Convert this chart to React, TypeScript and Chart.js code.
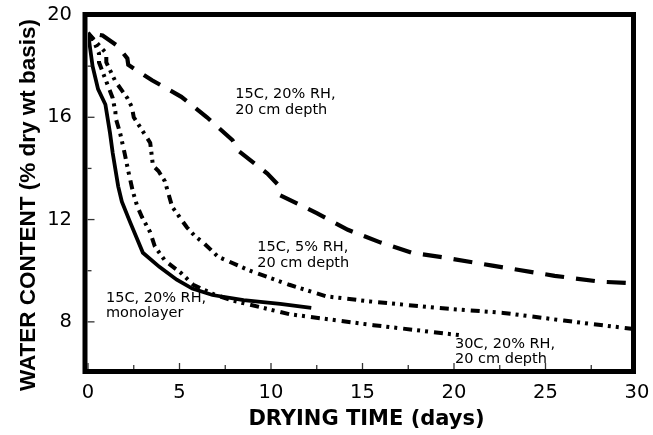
import React, { useEffect, useRef } from 'react';
import { Chart, registerables } from 'chart.js';

Chart.register(...registerables);

// 15C, 20% RH, monolayer (solid)
const monolayerDays = [0, 0.25, 0.55, 0.95, 1.2, 1.35, 1.65, 1.85, 2.3, 3.0, 3.9, 4.85, 5.7, 6.8, 8.5, 10.5, 12.2];
const monolayerWater = [19.3, 18.0, 17.1, 16.5, 15.4, 14.6, 13.3, 12.7, 11.9, 10.7, 10.15, 9.65, 9.3, 9.05, 8.85, 8.7, 8.55];

// 15C, 20% RH, 20 cm depth (long dash)
const depth20Days = [0, 0.8, 1.6, 2.15, 2.2, 3.5, 5.1, 6.5, 7.9, 8.2, 9.8, 10.4, 10.5, 12.5, 14.2, 16.0, 17.7, 19.6, 22.1, 25.5, 28.0, 30.0];
const depth20Water = [19.3, 19.2, 18.8, 18.3, 18.05, 17.45, 16.8, 16.0, 15.1, 14.7, 13.8, 13.35, 12.95, 12.25, 11.6, 11.1, 10.7, 10.5, 10.2, 9.8, 9.57, 9.5];

// 15C, 5% RH, 20 cm depth (dash-dot-dot, outer)
const lowRhDays = [0, 0.5, 1.0, 1.0, 1.5, 1.8, 2.15, 2.4, 2.5, 2.95, 3.4, 3.55, 3.85, 4.2, 4.4, 4.6, 5.0, 5.4, 5.85, 6.3, 7.1, 8.85, 11.0, 13.0, 15.4, 19.0, 22.7, 26.0, 29.7];
const lowRhWater = [19.3, 18.9, 18.5, 18.15, 17.4, 17.1, 16.75, 16.4, 16.0, 15.5, 15.0, 14.1, 13.9, 13.5, 13.0, 12.5, 12.1, 11.7, 11.35, 11.1, 10.55, 10.0, 9.45, 9.0, 8.8, 8.55, 8.35, 8.05, 7.73];

// 30C, 20% RH, 20 cm depth (dash-dot-dot, inner)
const hotDays = [0, 0.3, 0.6, 0.6, 1.0, 1.35, 1.5, 1.5, 1.75, 2.0, 2.2, 2.45, 2.7, 2.95, 3.4, 3.65, 4.2, 5.1, 5.75, 6.8, 7.8, 11.0, 15.6, 20.3];
const hotWater = [19.3, 19.0, 18.5, 18.15, 17.4, 16.75, 16.2, 16.0, 15.4, 14.6, 13.9, 13.1, 12.5, 12.1, 11.5, 10.95, 10.4, 9.9, 9.45, 9.1, 8.85, 8.3, 7.87, 7.48];

const xTickLabels = [0, 5, 10, 15, 20, 25, 30];
const yTickLabels = [8, 12, 16, 20];

const xTitle = 'DRYING TIME (days)';
const yTitle = 'WATER CONTENT (% dry wt basis)';

const annotationTexts = [
  ['15C, 20% RH,', '20 cm depth'],
  ['15C, 5% RH,', '20 cm depth'],
  ['15C, 20% RH,', 'monolayer'],
  ['30C, 20% RH,', '20 cm depth'],
];
const annotationDays = [8.05, 9.25, 0.98, 20.05];
const annotationWater = [16.9, 10.9, 8.94, 7.14];

const zip = (xs: number[], ys: number[]) => xs.map((x, i) => ({ x, y: ys[i] }));

const decorPlugin = {
  id: 'decor',
  afterDatasetsDraw(chart: any) {
    const { ctx, chartArea, scales } = chart;
    const { left, right, top, bottom } = chartArea;
    const xs = scales.x;
    const ys = scales.y;
    ctx.save();
    // frame
    const bl = left - 3;
    const br = right - 3.5;
    const bt = top - 0.5;
    const bb = bottom - 1.5;
    ctx.strokeStyle = '#000';
    ctx.lineWidth = 5;
    ctx.lineJoin = 'miter';
    ctx.setLineDash([]);
    ctx.strokeRect(bl, bt, br - bl, bb - bt);

    // inward ticks
    ctx.lineWidth = 1.3;
    ctx.strokeStyle = '#333';
    const innerBottom = bb - 2.5;
    xs.ticks.forEach((t: any) => {
      const px = xs.getPixelForValue(t.value);
      if (px < bl + 3 || px > br - 3) return;
      const len = xTickLabels.includes(t.value) ? 6 : 4;
      ctx.beginPath();
      ctx.moveTo(px, innerBottom);
      ctx.lineTo(px, innerBottom - len);
      ctx.stroke();
    });
    const innerLeft = bl + 2.5;
    ys.ticks.forEach((t: any) => {
      const py = ys.getPixelForValue(t.value);
      if (py < bt + 3 || py > bb - 3) return;
      const len = yTickLabels.includes(t.value) ? 7 : 4;
      ctx.beginPath();
      ctx.moveTo(innerLeft, py);
      ctx.lineTo(innerLeft + len, py);
      ctx.stroke();
    });

    // annotations
    ctx.fillStyle = '#000';
    ctx.font = '14.5px "DejaVu Sans"';
    ctx.textAlign = 'left';
    ctx.textBaseline = 'middle';
    annotationTexts.forEach((lines, i) => {
      const ax = xs.getPixelForValue(annotationDays[i]);
      const ay = ys.getPixelForValue(annotationWater[i]);
      lines.forEach((line, j) => ctx.fillText(line, ax, ay + j * 15.5));
    });

    // axis titles
    ctx.textAlign = 'center';
    ctx.font = 'bold 21px "DejaVu Sans"';
    ctx.fillText(xTitle, (left + right) / 2 + 4, 420);
    ctx.translate(28.5, 205);
    ctx.rotate(-Math.PI / 2);
    ctx.font = 'bold 22.5px "Liberation Sans"';
    ctx.fillText(yTitle, 0, 0);
    ctx.restore();
  },
};

const zeroPadding = (s: any) => {
  s.paddingTop = 0;
  s.paddingBottom = 0;
  s.paddingLeft = 0;
  s.paddingRight = 0;
};

export default function App() {
  const canvasRef = useRef<HTMLCanvasElement | null>(null);

  useEffect(() => {
    if (!canvasRef.current) return;
    const tickFont = { family: '"DejaVu Sans"', size: 19.5, lineHeight: 1 };
    const chart = new Chart(canvasRef.current, {
      type: 'line',
      data: {
        datasets: [
          {
            label: '15C, 20% RH, monolayer',
            data: zip(monolayerDays, monolayerWater),
            borderColor: '#000',
            borderWidth: 3.8,
            pointRadius: 0,
            tension: 0,
            fill: false,
          },
          {
            label: '15C, 20% RH, 20 cm depth',
            data: zip(depth20Days, depth20Water),
            borderColor: '#000',
            borderWidth: 4.2,
            borderDash: [19, 12],
            borderDashOffset: 19,
            pointRadius: 0,
            tension: 0,
            fill: false,
          },
          {
            label: '15C, 5% RH, 20 cm depth',
            data: zip(lowRhDays, lowRhWater),
            borderColor: '#000',
            borderWidth: 4,
            borderDash: [9, 5, 3, 5, 3, 6],
            pointRadius: 0,
            tension: 0,
            fill: false,
          },
          {
            label: '30C, 20% RH, 20 cm depth',
            data: zip(hotDays, hotWater),
            borderColor: '#000',
            borderWidth: 4,
            borderDash: [9, 5, 3, 5, 3, 6],
            pointRadius: 0,
            tension: 0,
            fill: false,
          },
        ],
      },
      options: {
        animation: false,
        responsive: false,
        layout: { padding: { left: 0, top: 15, right: 16, bottom: 0 } },
        plugins: {
          legend: { display: false },
          tooltip: { enabled: false },
        },
        scales: {
          x: {
            type: 'linear',
            min: 0,
            max: 30,
            grid: { display: false, drawTicks: false },
            border: { display: false },
            ticks: {
              stepSize: 2.5,
              autoSkip: false,
              maxRotation: 0,
              padding: 10,
              color: '#000',
              font: tickFont,
              callback: (v: any) => (xTickLabels.includes(Number(v)) ? String(v) : ''),
            },
            afterFit: (s: any) => {
              s.height = 62;
              zeroPadding(s);
            },
          },
          y: {
            type: 'linear',
            min: 6,
            max: 20,
            grid: { display: false, drawTicks: false },
            border: { display: false },
            ticks: {
              stepSize: 2,
              autoSkip: false,
              padding: 16,
              color: '#000',
              font: tickFont,
              callback: (v: any) => (yTickLabels.includes(Number(v)) ? String(v) : ''),
            },
            afterFit: (s: any) => {
              s.width = 88;
              zeroPadding(s);
            },
          },
        },
      },
      plugins: [decorPlugin],
    });
    return () => chart.destroy();
  }, []);

  return (
    <div style={{ position: 'fixed', left: 0, top: 0, width: 653, height: 435, background: '#fff' }}>
      <canvas ref={canvasRef} width={653} height={435} />
    </div>
  );
}
